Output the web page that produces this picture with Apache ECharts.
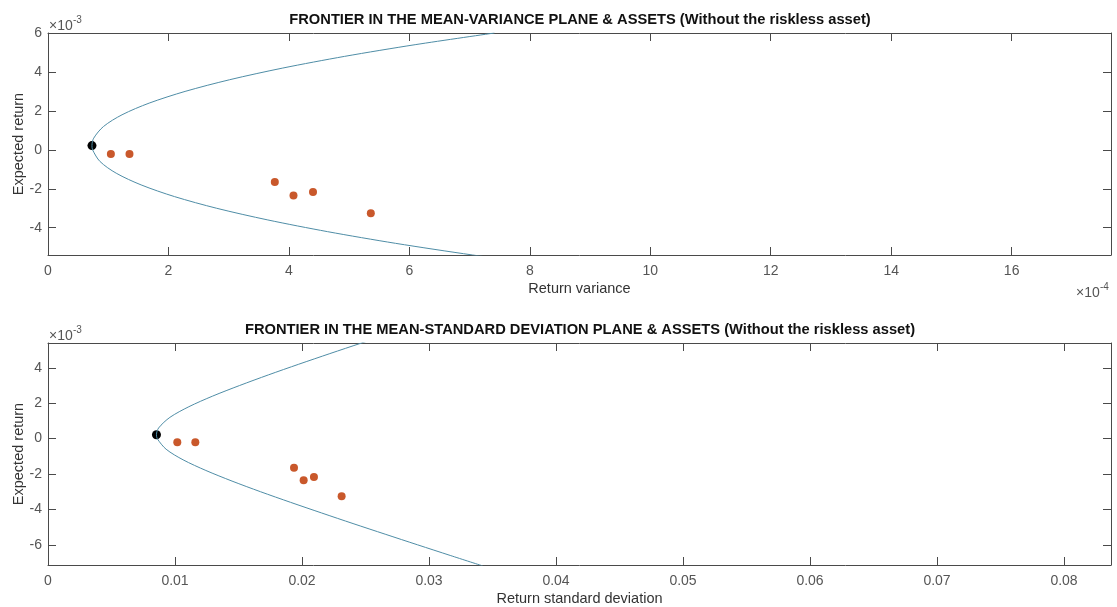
<!DOCTYPE html>
<html lang="en">
<head>
    <meta charset="UTF-8">
    <script type="text/javascript" src="https://cdn.jsdelivr.net/npm/echarts@6/dist/echarts.min.js"></script>
    <style>
        html, body { margin: 0; padding: 0; background: #fff; }
    </style>
</head>
<body>
    <div id="frontierChart" style="width: 1117px;height: 607px;"></div>
</body>

<script>
    // frontier: expected return and the matching variance / std dev
    var frontierReturn = [-0.0072, -0.0066, -0.0060, -0.0054, -0.0048, -0.0042, -0.0036, -0.0030, -0.0024, -0.0018, -0.0012, -0.0006,
        0.0000, 0.00022, 0.0006, 0.0012, 0.0018, 0.0024, 0.0030, 0.0036, 0.0042, 0.0048, 0.0054, 0.0060];
    var frontierVariance = [11.74e-4, 10.03e-4, 8.47e-4, 7.05e-4, 5.77e-4, 4.64e-4, 3.65e-4, 2.80e-4, 2.10e-4, 1.546e-4, 1.133e-4, 0.864e-4,
        0.740e-4, 0.730e-4, 0.759e-4, 0.922e-4, 1.229e-4, 1.680e-4, 2.276e-4, 3.015e-4, 3.898e-4, 4.925e-4, 6.096e-4, 7.412e-4];
    var frontierStd = [0.03426, 0.03167, 0.02910, 0.02655, 0.02402, 0.02154, 0.01910, 0.01673, 0.01449, 0.01243, 0.01064, 0.00930,
        0.00860, 0.00854, 0.00871, 0.00960, 0.01109, 0.01296, 0.01509, 0.01736, 0.01974, 0.02219, 0.02469, 0.02722];

    // assets
    var assetReturn = [-0.00021, -0.00021, -0.00165, -0.00235, -0.00217, -0.00325];
    var assetVariance = [1.044e-4, 1.353e-4, 3.766e-4, 4.076e-4, 4.40e-4, 5.36e-4];
    var assetStd = [0.01018, 0.01160, 0.01937, 0.02013, 0.02094, 0.02312];

    // minimum variance portfolio
    var minVarReturn = [0.00022];
    var minVarVariance = [0.73e-4];
    var minVarStd = [0.00854];

    // tick values
    var topXTicks = [0, 2e-4, 4e-4, 6e-4, 8e-4, 10e-4, 12e-4, 14e-4, 16e-4];
    var topYTicks = [-0.004, -0.002, 0, 0.002, 0.004, 0.006];
    var bottomXTicks = [0, 0.01, 0.02, 0.03, 0.04, 0.05, 0.06, 0.07, 0.08];
    var bottomYTicks = [-0.006, -0.004, -0.002, 0, 0.002, 0.004];

    var axisColor = '#4a4a4a';
    var lineColor = '#4f8da6';
    var dotColor = '#c9582b';
    var fontFamily = '"Liberation Sans", Arial, sans-serif';

    function zip(xs, ys) {
        var out = [];
        for (var i = 0; i < xs.length; i++) {
            out.push([xs[i], ys[i]]);
        }
        return out;
    }

    function makeXAxis(gridIndex, min, max, ticks, pos, name, fmt) {
        var main = pos === 'bottom';
        return {
            type: 'value', gridIndex: gridIndex, position: pos, min: min, max: max,
            name: main ? name : '', nameLocation: 'middle', nameGap: 26, nameMoveOverlap: false,
            nameTextStyle: { color: '#333', fontSize: 14.5, fontFamily: fontFamily },
            splitLine: { show: false },
            axisLine: { show: true, onZero: false, lineStyle: { color: axisColor, width: 1 } },
            axisTick: { show: true, inside: true, length: 8, customValues: ticks, lineStyle: { color: axisColor } },
            axisLabel: { show: main, customValues: ticks, margin: 9, color: '#555', fontSize: 14, fontFamily: fontFamily, formatter: fmt }
        };
    }

    function makeYAxis(gridIndex, min, max, ticks, pos, name) {
        var main = pos === 'left';
        return {
            type: 'value', gridIndex: gridIndex, position: pos, min: min, max: max,
            name: main ? name : '', nameLocation: 'middle', nameGap: 22, nameMoveOverlap: false,
            nameTextStyle: { color: '#333', fontSize: 14.5, fontFamily: fontFamily },
            splitLine: { show: false },
            axisLine: { show: true, onZero: false, lineStyle: { color: axisColor, width: 1 } },
            axisTick: { show: true, inside: true, length: 8, customValues: ticks, lineStyle: { color: axisColor } },
            axisLabel: {
                show: main, customValues: ticks, margin: 6, color: '#555', fontSize: 14, fontFamily: fontFamily,
                formatter: function (v) { return String(Math.round(v * 1000)); }
            }
        };
    }

    // 幂次标注 x10^n
    function exponentLabel(x, y, power) {
        return [
            { type: 'text', x: x, y: y, style: { text: '\u00d710', fill: '#555', fontSize: 14, fontFamily: fontFamily, verticalAlign: 'middle' } },
            { type: 'text', x: x + 24, y: y - 6, style: { text: power, fill: '#555', fontSize: 10, fontFamily: fontFamily, verticalAlign: 'middle' } }
        ];
    }

    function titleText(y, text) {
        return {
            type: 'text', x: 580, y: y,
            style: { text: text, fill: '#111', fontSize: 14.7, fontWeight: 'bold', fontFamily: fontFamily, align: 'center', verticalAlign: 'middle' }
        };
    }

    var graphics = [
        titleText(20, 'FRONTIER IN THE MEAN-VARIANCE PLANE & ASSETS (Without the riskless asset)'),
        titleText(330, 'FRONTIER IN THE MEAN-STANDARD DEVIATION PLANE & ASSETS (Without the riskless asset)')
    ].concat(exponentLabel(49, 26, '-3'), exponentLabel(49, 336, '-3'), exponentLabel(1076, 293, '-4'));

    var varFmt = function (v) { return String(Math.round(v * 10000)); };
    var stdFmt = function (v) { return v === 0 ? '0' : v.toFixed(2); };

    var option = {
        backgroundColor: '#fff',
        animation: false,
        graphic: graphics,
        grid: [
            { left: 48, top: 33, width: 1063, height: 222, outerBoundsMode: 'none' },
            { left: 48, top: 343, width: 1063, height: 222, outerBoundsMode: 'none' }
        ],
        xAxis: [
            makeXAxis(0, 0, 17.65e-4, topXTicks, 'bottom', 'Return variance', varFmt),
            makeXAxis(0, 0, 17.65e-4, topXTicks, 'top', '', varFmt),
            makeXAxis(1, 0, 0.0837, bottomXTicks, 'bottom', 'Return standard deviation', stdFmt),
            makeXAxis(1, 0, 0.0837, bottomXTicks, 'top', '', stdFmt)
        ],
        yAxis: [
            makeYAxis(0, -0.0054, 0.006, topYTicks, 'left', 'Expected return'),
            makeYAxis(0, -0.0054, 0.006, topYTicks, 'right', ''),
            makeYAxis(1, -0.00714, 0.0054, bottomYTicks, 'left', 'Expected return'),
            makeYAxis(1, -0.00714, 0.0054, bottomYTicks, 'right', '')
        ],
        series: [
            {
                type: 'line', xAxisIndex: 0, yAxisIndex: 0, data: zip(frontierVariance, frontierReturn),
                smooth: 0.3, showSymbol: false, clip: true, lineStyle: { color: lineColor, width: 1 }
            },
            {
                type: 'scatter', xAxisIndex: 0, yAxisIndex: 0, data: zip(assetVariance, assetReturn),
                symbolSize: 8, itemStyle: { color: dotColor, opacity: 1 }
            },
            {
                type: 'scatter', xAxisIndex: 0, yAxisIndex: 0, data: zip(minVarVariance, minVarReturn),
                symbolSize: 9, itemStyle: { color: '#000', opacity: 1 }
            },
            {
                type: 'line', xAxisIndex: 2, yAxisIndex: 2, data: zip(frontierStd, frontierReturn),
                smooth: 0.3, showSymbol: false, clip: true, lineStyle: { color: lineColor, width: 1 }
            },
            {
                type: 'scatter', xAxisIndex: 2, yAxisIndex: 2, data: zip(assetStd, assetReturn),
                symbolSize: 8, itemStyle: { color: dotColor, opacity: 1 }
            },
            {
                type: 'scatter', xAxisIndex: 2, yAxisIndex: 2, data: zip(minVarStd, minVarReturn),
                symbolSize: 9, itemStyle: { color: '#000', opacity: 1 }
            }
        ]
    };

    var frontierChart = echarts.init(document.getElementById('frontierChart'));
    frontierChart.setOption(option);
</script>
</html>
